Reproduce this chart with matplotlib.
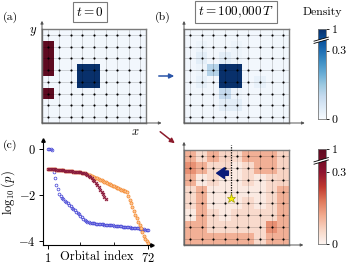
import numpy as np
import matplotlib.pyplot as plt
from matplotlib.colors import LinearSegmentedColormap
from matplotlib.patches import Polygon, FancyArrowPatch

plt.rcParams['font.family'] = 'serif'
plt.rcParams['font.serif'] = ['cmr10']
plt.rcParams['mathtext.fontset'] = 'cm'

W, H = 347, 267
NX, NY = 9, 8

# ---- data ----
# panel (a): initial state, rows listed top to bottom
blue_a = [
    [0.01] * 9,
    [0.01] * 9,
    [0.01] * 9,
    [0.01, 0.01, 0.01, 1.0, 1.0, 0.01, 0.01, 0.01, 0.01],
    [0.01, 0.01, 0.01, 1.0, 1.0, 0.01, 0.01, 0.01, 0.01],
    [0.01] * 9,
    [0.01] * 9,
    [0.01] * 9,
]
red_a = [
    [0, 0, 0, 0, 0, 0, 0, 0, 0],
    [1, 0, 0, 0, 0, 0, 0, 0, 0],
    [1, 0, 0, 0, 0, 0, 0, 0, 0],
    [1, 0, 0, 0, 0, 0, 0, 0, 0],
    [0, 0, 0, 0, 0, 0, 0, 0, 0],
    [1, 0, 0, 0, 0, 0, 0, 0, 0],
    [0, 0, 0, 0, 0, 0, 0, 0, 0],
    [0, 0, 0, 0, 0, 0, 0, 0, 0],
]
# panel (b): density after 100,000 T
blue_b = [
    [0.01, 0.01, 0.01, 0.01, 0.01, 0.01, 0.01, 0.01, 0.01],
    [0.01, 0.02, 0.01, 0.01, 0.02, 0.01, 0.01, 0.01, 0.01],
    [0.01, 0.04, 0.01, 0.04, 0.02, 0.01, 0.01, 0.01, 0.01],
    [0.01, 0.02, 0.12, 1.0, 1.0, 0.01, 0.01, 0.01, 0.01],
    [0.01, 0.03, 0.01, 1.0, 1.0, 0.01, 0.03, 0.01, 0.01],
    [0.01, 0.01, 0.01, 0.10, 0.02, 0.01, 0.01, 0.01, 0.01],
    [0.01, 0.01, 0.01, 0.04, 0.04, 0.01, 0.01, 0.01, 0.01],
    [0.01, 0.01, 0.01, 0.01, 0.01, 0.01, 0.01, 0.01, 0.01],
]
# panel (d): red density
red_d = [
    [0.11, 0.05, 0.11, 0.06, 0.05, 0.11, 0.11, 0.11, 0.06],
    [0.15, 0.11, 0.05, 0.05, 0.02, 0.05, 0.11, 0.11, 0.06],
    [0.11, 0.02, 0.05, 0.02, 0.02, 0.05, 0.02, 0.05, 0.06],
    [0.05, 0.11, 0.02, 0.02, 0.02, 0.02, 0.02, 0.05, 0.11],
    [0.05, 0.11, 0.02, 0.02, 0.02, 0.05, 0.02, 0.05, 0.11],
    [0.02, 0.11, 0.05, 0.02, 0.05, 0.05, 0.05, 0.05, 0.11],
    [0.11, 0.11, 0.05, 0.05, 0.05, 0.05, 0.05, 0.15, 0.11],
    [0.11, 0.11, 0.11, 0.11, 0.11, 0.11, 0.05, 0.11, 0.11],
]

# panel (c): log10(p) versus orbital index
orbital = list(range(1, 73))
blue_p = [0.0, -0.01, -0.02, -0.04, -1.0, -1.25, -1.55, -1.75, -1.95, -2.05,
          -2.12, -2.18, -2.25, -2.3, -2.36, -2.42, -2.48, -2.55, -2.6, -2.66,
          -2.72, -2.78, -2.84, -2.9, -2.96, -3.02, -3.07, -3.12, -3.16, -3.18,
          -3.2, -3.21, -3.22, -3.23, -3.24, -3.25, -3.25, -3.26, -3.27, -3.27,
          -3.28, -3.29, -3.29, -3.3, -3.31, -3.31, -3.32, -3.33, -3.33, -3.34,
          -3.35, -3.35, -3.36, -3.37, -3.38, -3.38, -3.39, -3.4, -3.4, -3.41,
          -3.42, -3.43, -3.43, -3.44, -3.45, -3.46, -3.47, -3.48, -3.49, -3.5,
          -3.51, -3.52]
orange_p = [-0.85, -0.86, -0.87, -0.87, -0.88, -0.89, -0.9, -0.9, -0.91, -0.92,
            -0.92, -0.93, -0.94, -0.94, -0.95, -0.96, -0.96, -0.97, -0.98, -0.98,
            -0.99, -1.0, -1.01, -1.02, -1.03, -1.04, -1.05, -1.07, -1.09, -1.11,
            -1.14, -1.17, -1.2, -1.23, -1.26, -1.28, -1.3, -1.33, -1.36, -1.39,
            -1.42, -1.45, -1.48, -1.5, -1.53, -1.56, -1.59, -1.62, -1.65, -1.68,
            -1.71, -1.74, -1.77, -1.79, -1.81, -1.84, -1.88, -2.05, -2.2, -2.35,
            -2.5, -2.68, -2.85, -3.0, -3.15, -3.3, -3.45, -3.62, -3.78, -3.9,
            -4.0, -4.1]
red_orbital = list(range(1, 43))
red_p = [-0.85, -0.86, -0.87, -0.87, -0.88, -0.89, -0.9, -0.9, -0.91, -0.92,
         -0.92, -0.93, -0.94, -0.94, -0.95, -0.96, -0.96, -0.97, -0.98, -0.98,
         -0.99, -1.0, -1.01, -1.02, -1.03, -1.04, -1.06, -1.08, -1.12, -1.16,
         -1.2, -1.26, -1.33, -1.4, -1.48, -1.57, -1.66, -1.76, -1.86, -1.97,
         -2.07, -2.17]

bar_ticks = [0, 0.3, 1]
bar_labels = ['0', '0.3', '1']
U3 = 0.76  # colorbar position of 0.3 (broken scale)

blues = plt.get_cmap('Blues')
reds = LinearSegmentedColormap.from_list('reds', [
    (0.0, '#fdf4f0'), (0.13, '#f9dacb'), (0.3, '#f2ab8f'), (0.45, '#e07a5c'),
    (0.6, '#c0392f'), (0.76, '#8e1530'), (1.0, '#5e0a20')])


def to_bar(v):
    v = np.asarray(v, dtype=float)
    return np.where(v <= 0.3, v / 0.3 * U3, U3 + (v - 0.3) / 0.7 * (1 - U3))


fig = plt.figure(figsize=(W / 100, H / 100), dpi=100)


def px_axes(l, t, r, b):
    return fig.add_axes([l / W, 1 - b / H, (r - l) / W, (b - t) / H])


def fx(x):
    return x / W


def fy(y):
    return 1 - y / H


def lattice(ax, xtip, ytip):
    ext = (-0.5, NX - 0.5, -0.5, NY - 0.5)
    for x in range(NX):
        ax.plot([x, x], [-0.5, NY - 0.5], color='k', alpha=0.18, lw=0.6, zorder=2)
    for y in range(NY):
        ax.plot([-0.5, NX - 0.5], [y, y], color='k', alpha=0.18, lw=0.6, zorder=2)
    xx, yy = np.meshgrid(range(NX), range(NY))
    ax.scatter(xx.ravel(), yy.ravel(), s=2.4, c='k', zorder=3, linewidths=0)
    ax.set_xlim(ext[0], ext[1])
    ax.set_ylim(ext[2], ext[3])
    ax.set_xticks([])
    ax.set_yticks([])
    for s in ax.spines.values():
        s.set_color('#7a7a7a')
        s.set_linewidth(1.0)
    arr = dict(arrowstyle='-|>', color='#555555', lw=0.7, mutation_scale=4,
               shrinkA=0, shrinkB=0)
    ax.annotate('', xy=(0, ytip), xytext=(0, 0), xycoords='axes fraction',
                arrowprops=arr, annotation_clip=False)
    ax.annotate('', xy=(xtip, 0), xytext=(0, 0), xycoords='axes fraction',
                arrowprops=arr, annotation_clip=False)
    return ext


# (a)
ax_a = px_axes(42, 29, 146, 123)
ext = lattice(ax_a, 1.15, 1.087)
ax_a.imshow(to_bar(blue_a), cmap=blues, vmin=0, vmax=1, extent=ext,
            origin='upper', aspect='auto', interpolation='nearest', zorder=1)
ax_a.imshow(np.ma.masked_equal(np.array(red_a, float), 0), cmap=reds, vmin=0,
            vmax=1, extent=ext, origin='upper', aspect='auto',
            interpolation='nearest', zorder=1)

# (b)
ax_b = px_axes(184, 29, 289, 123)
ext = lattice(ax_b, 1.15, 1.086)
ax_b.imshow(to_bar(blue_b), cmap=blues, vmin=0, vmax=1, extent=ext,
            origin='upper', aspect='auto', interpolation='nearest', zorder=1)

# (d)
ax_d = px_axes(184, 150, 289, 245)
ext = lattice(ax_d, 1.137, 1.086)
ax_d.imshow(to_bar(red_d), cmap=reds, vmin=0, vmax=1, extent=ext,
            origin='upper', aspect='auto', interpolation='nearest', zorder=1)
ax_d.plot([3.5, 3.5], [3.5, 7.95], color='k', lw=0.9, ls=(0, (1, 1)),
          zorder=4, clip_on=False)
ax_d.plot(3.5, 3.5, marker='*', ms=6.5, mfc='#f7f000', mec='#8a8a00', mew=0.4,
          zorder=5)
ax_d.annotate('', xy=(2.3, 5.55), xytext=(3.3, 5.55),
              arrowprops=dict(arrowstyle='simple,head_width=1.1,head_length=0.8,tail_width=0.45',
                              color='#0a1a78', mutation_scale=7, shrinkA=0, shrinkB=0),
              zorder=6)

# (c)
ax_c = px_axes(43, 140, 152, 245)
ax_c.plot(orbital, blue_p, 'o', ms=2.0, mfc='none', mec='#4a4ad6', mew=0.55)
ax_c.plot(orbital, orange_p, 'o', ms=2.2, mfc='#fbc99c', mec='#f48a32', mew=0.55)
ax_c.plot(red_orbital, red_p, 'o', ms=3.0, mfc='#e9a8b4', mec='none', alpha=0.5)
ax_c.plot(red_orbital, red_p, 'x', ms=2.0, color='#8a1c3c', mew=0.8)
ax_c.set_xlim(-2.55, 74.86)
ax_c.set_ylim(-4.17, 0.39)
ax_c.spines['top'].set_visible(False)
ax_c.spines['right'].set_visible(False)
for s in ('left', 'bottom'):
    ax_c.spines[s].set_linewidth(0.8)
ax_c.plot(1, 0, '>', color='k', ms=2.5, transform=ax_c.transAxes, clip_on=False)
ax_c.plot(0, 1, '^', color='k', ms=2.5, transform=ax_c.transAxes, clip_on=False)
ax_c.set_yticks([0, -2, -4])
ax_c.set_yticklabels(['$0$', '$-2$', '$-4$'], fontsize=9)
ax_c.set_xticks([1, 72])
ax_c.set_xticklabels(['$1$', '$72$'], fontsize=9)
ax_c.set_xticks([24, 48], minor=True)
ax_c.tick_params(axis='both', which='major', length=3, width=0.7, pad=2)
ax_c.tick_params(axis='x', which='minor', direction='in', length=2, width=0.6)
ax_c.set_ylabel(r'$\log_{10}(p)$', fontsize=9, labelpad=1)
fig.text(fx(97), fy(257), 'Orbital index', fontsize=9, ha='center', va='center')


# colorbars with a broken scale
def colorbar(l, t, r, b, cmap):
    cax = px_axes(l, t, r, b)
    cax.imshow(np.linspace(0, 1, 256)[:, None], cmap=cmap, origin='lower',
               extent=(0, 1, 0, 1), aspect='auto')
    cax.set_xticks([])
    cax.set_yticks(to_bar(bar_ticks))
    cax.set_yticklabels(bar_labels, fontsize=8.5)
    cax.yaxis.tick_right()
    cax.tick_params(axis='y', length=2.5, width=0.6, pad=1.5)
    for s in cax.spines.values():
        s.set_color('#7a7a7a')
        s.set_linewidth(0.6)
    ub = 0.87
    gap = Polygon([(-0.5, ub - 0.03), (1.3, ub + 0.015), (1.3, ub + 0.04),
                   (-0.5, ub - 0.005)], closed=True, fc='white', ec='none',
                  transform=cax.transAxes, clip_on=False, zorder=5)
    cax.add_patch(gap)
    for d in (0.0, 0.025):
        cax.plot([-0.5, 1.3], [ub - 0.03 + d, ub + 0.015 + d], color='k', lw=0.6,
                 transform=cax.transAxes, clip_on=False, zorder=6)
    return cax


colorbar(318, 29, 326, 119, blues)
colorbar(318, 149, 326, 244, reds)
fig.text(fx(322), fy(12), 'Density', fontsize=8.5, ha='center', va='center')

# titles and labels
box = dict(boxstyle='square,pad=0.25', fc='white', ec='#7a7a7a', lw=0.8)
fig.text(fx(90), fy(12), r'$t=0$', fontsize=9.5, ha='center', va='center', bbox=box)
fig.text(fx(236), fy(12), r'$t=100{,}000\,T$', fontsize=9.5, ha='center',
         va='center', bbox=box)
fig.text(fx(10), fy(17), '(a)', fontsize=8.5, ha='center', va='center')
fig.text(fx(163), fy(17), '(b)', fontsize=8.5, ha='center', va='center')
fig.text(fx(10), fy(145), '(c)', fontsize=8.5, ha='center', va='center')
fig.text(fx(33), fy(31), r'$y$', fontsize=9, ha='center', va='center')
fig.text(fx(135), fy(132), r'$x$', fontsize=9, ha='center', va='center')

# arrows between panels
fig.add_artist(FancyArrowPatch(
    (fx(156), fy(76)), (fx(177), fy(76)), transform=fig.transFigure,
    arrowstyle='-|>', mutation_scale=7, lw=1.1, color='#2a55a8'))
fig.add_artist(FancyArrowPatch(
    (fx(158), fy(130)), (fx(177), fy(145)), transform=fig.transFigure,
    arrowstyle='-|>', mutation_scale=7, lw=1.1, color='#8b1a2b'))

fig.savefig('out.png', dpi=100)
